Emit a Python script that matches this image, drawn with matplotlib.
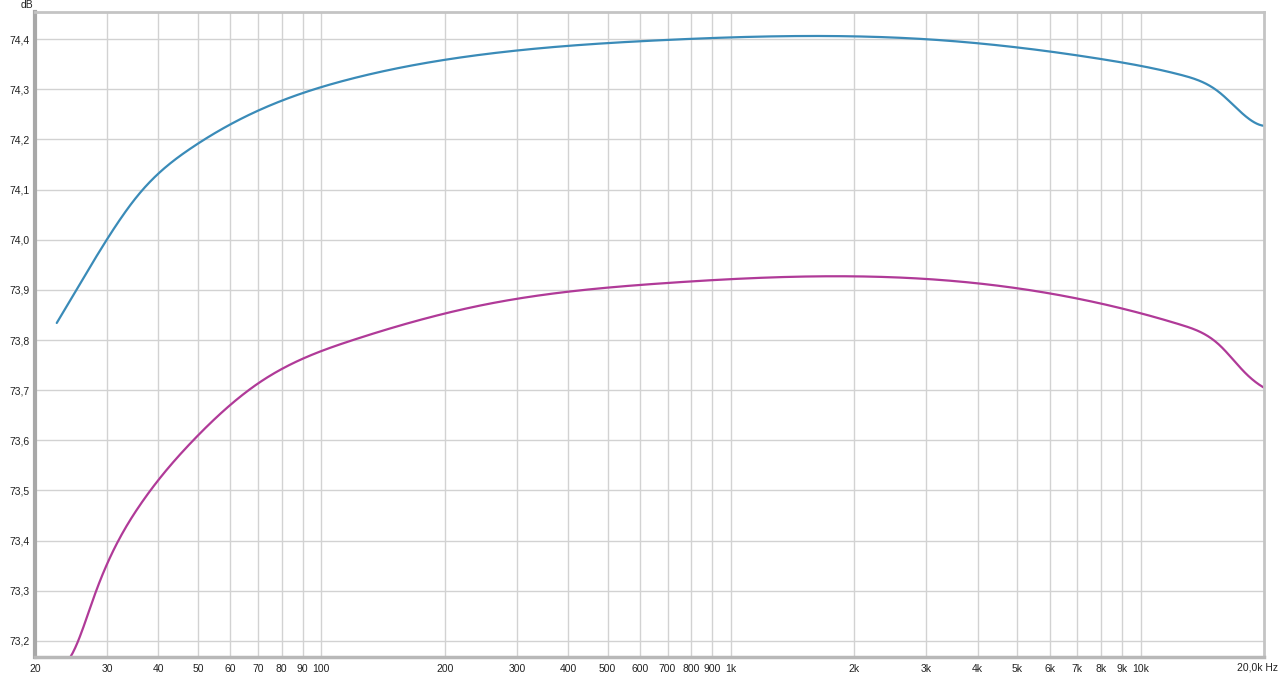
import numpy as np
import matplotlib
matplotlib.use("Agg")
import matplotlib.pyplot as plt

plt.rcParams['font.family'] = ['Liberation Sans', 'DejaVu Sans']

# Frequency (Hz) and level (dB)
freq_a = [22.6, 24.67, 27.1, 30, 33.3, 37.6, 40, 44.1, 50, 60, 70, 80, 90, 100,
          110, 200, 300, 400, 500, 700, 1000, 1500, 2000, 3000, 4500, 5000,
          6000, 7000, 8000, 9000, 10000, 11550, 13500, 14800, 16300, 17900,
          19000, 20000]
level_a = [73.834, 73.885, 73.945, 74.000, 74.055, 74.112, 74.132, 74.159,
           74.192, 74.231, 74.257, 74.275, 74.293, 74.305, 74.315, 74.357,
           74.377, 74.387, 74.393, 74.399, 74.403, 74.405, 74.404, 74.401,
           74.389, 74.384, 74.375, 74.367, 74.359, 74.352, 74.347, 74.337,
           74.322, 74.305, 74.279, 74.249, 74.233, 74.227]

freq_b = [24.4, 25.5, 28.1, 30, 33.3, 40, 44.3, 50, 60, 70, 80, 90, 100, 124,
          200, 217, 300, 400, 500, 700, 1000, 1500, 2000, 3000, 4500, 5000,
          6000, 7000, 8000, 9000, 10000, 11550, 13500, 14800, 16300, 17900,
          19000, 20000]
level_b = [73.168, 73.200, 73.300, 73.345, 73.435, 73.514, 73.568, 73.607,
           73.674, 73.714, 73.740, 73.762, 73.777, 73.807, 73.851, 73.859,
           73.884, 73.896, 73.904, 73.914, 73.922, 73.926, 73.926, 73.922,
           73.908, 73.905, 73.893, 73.882, 73.872, 73.862, 73.853, 73.840,
           73.823, 73.803, 73.773, 73.737, 73.717, 73.705]

y_ticks = [73.2, 73.3, 73.4, 73.5, 73.6, 73.7, 73.8, 73.9, 74.0, 74.1, 74.2, 74.3, 74.4]
x_ticks = [20, 30, 40, 50, 60, 70, 80, 90, 100, 200, 300, 400, 500, 600, 700,
           800, 900, 1000, 2000, 3000, 4000, 5000, 6000, 7000, 8000, 9000, 10000]
x_labels = ["20", "30", "40", "50", "60", "70", "80", "90", "100", "200", "300",
            "400", "500", "600", "700", "800", "900", "1k", "2k", "3k", "4k",
            "5k", "6k", "7k", "8k", "9k", "10k"]

knot_freqs = [28, 36, 48, 70, 120, 250, 700, 3000, 8000, 12500, 15500, 18000]


def fit_curve(fx, fy, n=1000):
    """Least-squares cubic regression spline through the read points (log-frequency)."""
    x = np.log10(np.asarray(fx, dtype=float))
    y = np.asarray(fy, dtype=float)
    knots = np.log10([k for k in knot_freqs if fx[0] < k < fx[-1]])
    x0, x1 = x[0], x[-1]

    def basis(t):
        u = (t - x0) / (x1 - x0)
        kn = (knots - x0) / (x1 - x0)
        cols = [np.ones_like(u), u, u**2, u**3]
        cols += [np.clip(u - k, 0, None) ** 3 for k in kn]
        return np.stack(cols, axis=1)

    w = np.ones_like(y)
    w[0] = w[-1] = 5.0
    B = basis(x)
    coef, *_ = np.linalg.lstsq(B * w[:, None], y * w, rcond=None)
    xs = np.linspace(x0, x1, n)
    return 10 ** xs, basis(xs) @ coef


fig = plt.figure(figsize=(12.8, 6.76), dpi=100)
ax = fig.add_axes([35 / 1280, (676 - 657) / 676, (1264 - 35) / 1280, (657 - 12) / 676])

xa, ya = fit_curve(freq_a, level_a)
xb, yb = fit_curve(freq_b, level_b)
ax.plot(xa, ya, color='#3a8bb8', lw=1.6, solid_capstyle='round')
ax.plot(xb, yb, color='#b03a98', lw=1.6, solid_capstyle='round')

ax.set_xscale('log')
ax.set_xlim(20, 20000)
ax.set_ylim(73.168, 74.454)
ax.set_yticks(y_ticks)
ax.set_yticklabels([f"{v:.1f}".replace('.', ',') for v in y_ticks])
ax.set_xticks(x_ticks)
ax.set_xticklabels(x_labels)
ax.xaxis.set_minor_locator(matplotlib.ticker.NullLocator())
ax.tick_params(axis='both', length=0, labelsize=7.5, colors='#222222')
ax.tick_params(axis='x', pad=5)
ax.tick_params(axis='y', pad=4)
ax.grid(True, color='#d2d2d2', lw=1)
ax.set_axisbelow(True)
for s in ax.spines.values():
    s.set_color('#c4c4c4')
    s.set_linewidth(2)
ax.spines['left'].set_color('#a8a8a8')
ax.spines['left'].set_linewidth(3)
ax.spines['bottom'].set_color('#b8b8b8')
ax.spines['bottom'].set_linewidth(2.5)

fig.text(1278 / 1280, 1 - 667 / 676, "20,0k Hz", ha='right', va='center',
         fontsize=7.5, color='#222222')
fig.text(21 / 1280, 1 - 5.5 / 676, "dB", ha='left', va='center', fontsize=7.5, color='#222222')

fig.savefig("out.png", dpi=100)
